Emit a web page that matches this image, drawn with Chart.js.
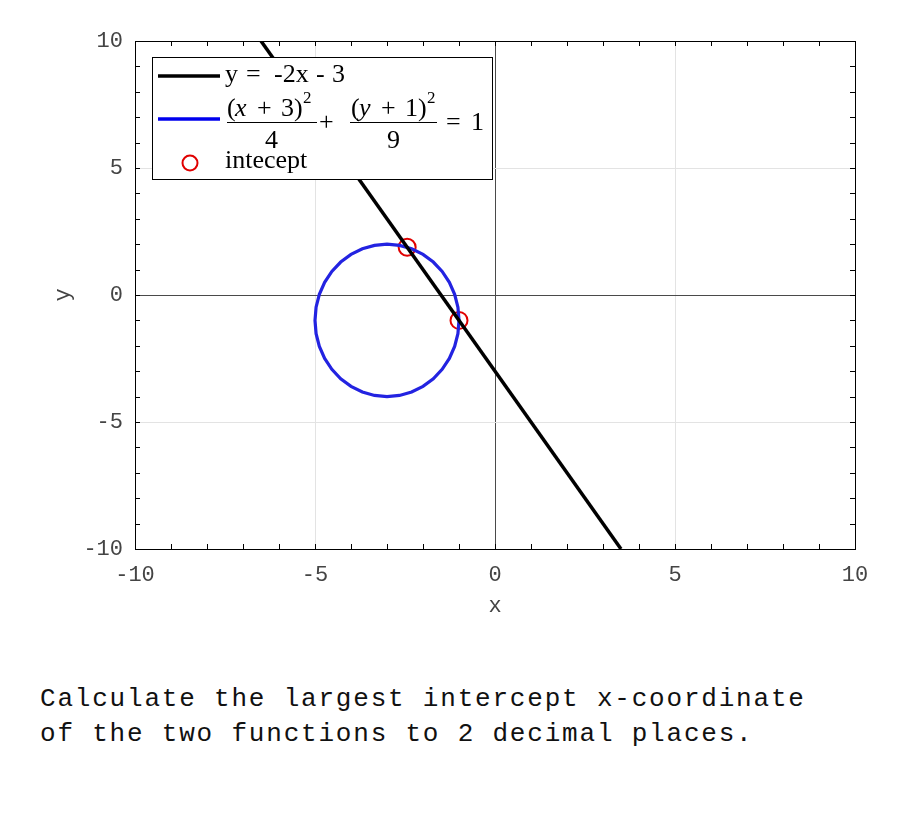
<!DOCTYPE html>
<html>
<head>
<meta charset="utf-8">
<script src="https://cdn.jsdelivr.net/npm/chart.js@4.4.0/dist/chart.umd.min.js"></script>
<style>
  body { margin: 0; background: #fff; }
  #wrap { position: absolute; left: 0; top: 0; width: 900px; height: 640px; }
  #question {
    position: absolute; left: 40px; top: 682px;
    font: 26px "Liberation Mono", monospace; letter-spacing: 1.8px;
    line-height: 35px; color: #111; white-space: pre;
  }
</style>
</head>
<body>
<div id="wrap"><canvas id="myChart"></canvas></div>
<div id="question">Calculate the largest intercept x-coordinate
of the two functions to 2 decimal places.</div>
<script>
// y = -2x - 3, end points where it leaves the plot
const lineX = [-6.5, 3.5];
const lineY = [10, -10];

// (x+3)^2/4 + (y+1)^2/9 = 1, points read round the curve every 10 degrees
const ellipseX = [-1.000, -1.030, -1.121, -1.268, -1.468, -1.714, -2.000, -2.316, -2.653, -3.000,
  -3.347, -3.684, -4.000, -4.286, -4.532, -4.732, -4.879, -4.970, -5.000,
  -4.970, -4.879, -4.732, -4.532, -4.286, -4.000, -3.684, -3.347, -3.000,
  -2.653, -2.316, -2.000, -1.714, -1.468, -1.268, -1.121, -1.030, -1.000];
const ellipseY = [-1.000, -0.479, 0.026, 0.500, 0.928, 1.298, 1.598, 1.819, 1.954, 2.000,
  1.954, 1.819, 1.598, 1.298, 0.928, 0.500, 0.026, -0.479, -1.000,
  -1.521, -2.026, -2.500, -2.928, -3.298, -3.598, -3.819, -3.954, -4.000,
  -3.954, -3.819, -3.598, -3.298, -2.928, -2.500, -2.026, -1.521, -1.000];

// the two intercepts
const interceptX = [-2.44, -1];
const interceptY = [1.88, -1];

const labelledTicks = [-10, -5, 0, 5, 10];

const toPoints = (xs, ys) => xs.map((v, i) => ({ x: v, y: ys[i] }));

const gridColor = ctx => {
  const v = ctx.tick.value;
  if (v === 0) return "#4a4a4a";
  if (labelledTicks.includes(v)) return "#e3e3e3";
  return "rgba(0,0,0,0)";
};

const tickFont = { family: "Liberation Mono", size: 22 };

const drawLegend = (ctx, a) => {
  const bx = a.left + 17;
  const by = a.top + 16;
  const serif = "26px 'Liberation Serif'";
  const italic = "italic 26px 'Liberation Serif'";
  const small = "17px 'Liberation Serif'";
  const text = (s, x, y, font) => {
    ctx.font = font || serif;
    ctx.fillText(s, bx + x, by + y);
  };

  ctx.save();
  ctx.fillStyle = "#fff";
  ctx.fillRect(bx, by, 340, 122);
  ctx.strokeStyle = "#000";
  ctx.lineWidth = 1;
  ctx.strokeRect(bx + 0.5, by + 0.5, 340, 122);

  // row 1
  ctx.lineWidth = 3.5;
  ctx.strokeStyle = "#000";
  ctx.beginPath();
  ctx.moveTo(bx + 6, by + 19);
  ctx.lineTo(bx + 68, by + 19);
  ctx.stroke();
  ctx.fillStyle = "#000";
  ctx.textBaseline = "alphabetic";
  ctx.textAlign = "left";
  text("y", 73, 25);
  text("=", 94, 25);
  text("-2x", 122, 25);
  text("-", 164, 25);
  text("3", 180, 25);

  // row 2
  ctx.strokeStyle = "#0000ee";
  ctx.beginPath();
  ctx.moveTo(bx + 6, by + 62);
  ctx.lineTo(bx + 68, by + 62);
  ctx.stroke();
  text("(", 75, 59);
  text("x", 83, 59, italic);
  text("+", 105, 59);
  text("3", 129, 59);
  text(")", 142, 59);
  text("2", 151, 46, small);
  text("4", 113, 91);
  text("+", 167, 73);
  text("(", 199, 59);
  text("y", 207, 59, italic);
  text("+", 229, 59);
  text("1", 253, 59);
  text(")", 266, 59);
  text("2", 275, 46, small);
  text("9", 235, 91);
  text("=", 294, 73);
  text("1", 319, 73);
  ctx.lineWidth = 1;
  ctx.strokeStyle = "#000";
  ctx.beginPath();
  ctx.moveTo(bx + 75, by + 65.5);
  ctx.lineTo(bx + 165, by + 65.5);
  ctx.moveTo(bx + 198, by + 65.5);
  ctx.lineTo(bx + 285, by + 65.5);
  ctx.stroke();

  // row 3
  ctx.strokeStyle = "#e00000";
  ctx.lineWidth = 2;
  ctx.beginPath();
  ctx.arc(bx + 38, by + 106, 7.5, 0, Math.PI * 2);
  ctx.stroke();
  text("intecept", 73, 111);
  ctx.restore();
};

const frame = {
  id: "frame",
  afterDraw(chart) {
    const { ctx, chartArea: a, scales: { x, y } } = chart;
    const len = 5;
    ctx.save();
    ctx.strokeStyle = "#000";
    ctx.lineWidth = 1;
    ctx.beginPath();
    x.ticks.forEach(t => {
      const px = Math.round(x.getPixelForValue(t.value)) + 0.5;
      ctx.moveTo(px, a.bottom);
      ctx.lineTo(px, a.bottom - len);
      ctx.moveTo(px, a.top);
      ctx.lineTo(px, a.top + len);
    });
    y.ticks.forEach(t => {
      const py = Math.round(y.getPixelForValue(t.value)) + 0.5;
      ctx.moveTo(a.left, py);
      ctx.lineTo(a.left + len, py);
      ctx.moveTo(a.right, py);
      ctx.lineTo(a.right - len, py);
    });
    ctx.stroke();
    ctx.strokeRect(Math.round(a.left) + 0.5, Math.round(a.top) + 0.5,
      Math.round(a.right - a.left), Math.round(a.bottom - a.top));
    ctx.restore();
    drawLegend(ctx, a);
  }
};

document.addEventListener("DOMContentLoaded", () => {
  const ctx = document.getElementById("myChart").getContext("2d");
  new Chart(ctx, {
    type: "scatter",
    data: {
      datasets: [
        {
          label: "y = -2x - 3",
          data: toPoints(lineX, lineY),
          showLine: true,
          borderColor: "#000",
          borderWidth: 3.5,
          pointRadius: 0
        },
        {
          label: "ellipse",
          data: toPoints(ellipseX, ellipseY),
          showLine: true,
          borderColor: "rgb(35,35,225)",
          borderWidth: 3.2,
          pointRadius: 0
        },
        {
          label: "intecept",
          data: toPoints(interceptX, interceptY),
          showLine: false,
          pointStyle: "circle",
          pointRadius: 8.5,
          borderColor: "#e00000",
          borderWidth: 2,
          backgroundColor: "rgba(0,0,0,0)"
        }
      ]
    },
    options: {
      responsive: true,
      maintainAspectRatio: false,
      animation: false,
      layout: { padding: { top: 41, right: 45, left: 0, bottom: 0 } },
      plugins: { legend: { display: false }, tooltip: { enabled: false } },
      scales: {
        x: {
          type: "linear",
          min: -10,
          max: 10,
          afterFit: s => { s.height = 91; },
          border: { display: false },
          grid: { color: gridColor, drawTicks: false },
          ticks: {
            stepSize: 1,
            autoSkip: false,
            maxRotation: 0,
            padding: 13,
            color: "#444",
            font: tickFont,
            callback: v => (labelledTicks.includes(v) ? String(v) : "")
          },
          title: {
            display: true,
            text: "x",
            color: "#444",
            font: tickFont,
            padding: { top: 0, bottom: 21 }
          }
        },
        y: {
          type: "linear",
          min: -10,
          max: 10,
          afterFit: s => { s.width = 135; },
          border: { display: false },
          grid: { color: gridColor, drawTicks: false },
          ticks: {
            stepSize: 1,
            autoSkip: false,
            padding: 12,
            color: "#444",
            font: tickFont,
            callback: v => (labelledTicks.includes(v) ? String(v) : "")
          },
          title: {
            display: true,
            text: "y",
            color: "#444",
            font: tickFont,
            padding: { top: 50, bottom: 0 }
          }
        }
      }
    },
    plugins: [frame]
  });
});
</script>
</body>
</html>
